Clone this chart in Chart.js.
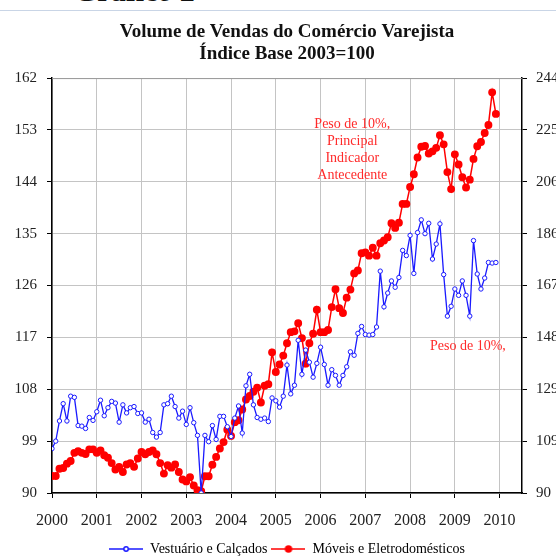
<!DOCTYPE html>
<html lang="pt">
<head>
  <meta charset="UTF-8">
  <title>Volume de Vendas do Comércio Varejista</title>
  <script src="https://cdn.jsdelivr.net/npm/chart.js"></script>
  <style>
    body {
      margin: 0;
      background: #fff;
    }
    .wrap {
      position: relative;
      width: 556px;
      height: 558px;
      overflow: hidden;
    }
    .cap {
      position: absolute;
      left: 74px;
      top: -24px;
      font: bold 30px/30px 'Liberation Serif', serif;
      color: #111;
    }
    .rule {
      position: absolute;
      left: 0;
      right: 0;
      top: 10px;
      border-top: 1px solid #c9d5e6;
    }
    canvas {
      position: absolute;
      left: 0;
      top: 0;
    }
  </style>
</head>
<body>

  <div class="wrap">
    <div class="cap">Gráfico 2</div>
    <div class="rule"></div>
    <canvas id="vendas" width="556" height="558"></canvas>
  </div>

  <script>
    // monthly index, Jan 2000 .. Dec 2009
    const years = ['2000', '2001', '2002', '2003', '2004', '2005', '2006', '2007', '2008', '2009', '2010'];

    // left axis
    const vestuario = [
      97.7, 99.0, 102.5, 105.5, 102.5, 106.8, 106.6, 101.7, 101.6, 101.2, 103.1, 102.6,
      104.1, 106.1, 103.4, 104.8, 105.9, 105.6, 102.3, 105.3, 103.9, 104.8, 105.0, 103.8,
      103.9, 102.3, 102.8, 100.5, 99.7, 100.5, 105.3, 105.5, 106.8, 105.0, 103.0, 104.2,
      101.9, 104.8, 102.2, 100.0, 90.0, 100.0, 98.9, 101.7, 99.3, 103.3, 103.3, 101.5,
      99.8, 103.0, 105.1, 100.4, 108.6, 110.6, 105.3, 103.1, 102.8, 103.0, 102.4, 106.5,
      106.0, 104.9, 106.8, 112.2, 107.2, 108.7, 116.5, 110.6, 114.8, 112.7, 110.1, 112.5,
      115.3, 112.3, 108.7, 111.4, 110.4, 108.7, 110.4, 111.9, 114.5, 113.9, 117.7, 118.9,
      117.5, 117.4, 117.5, 118.8, 128.5, 122.3, 124.7, 126.8, 125.7, 127.4, 132.1, 131.2,
      134.7, 128.1, 135.2, 137.4, 135.0, 136.8, 130.6, 133.2, 136.7, 127.9, 120.7, 122.4,
      125.4, 124.3, 126.8, 124.3, 120.7, 133.8, 128.0, 125.4, 127.3, 130.0, 129.9, 130.0
    ];

    // right axis
    const moveis = [
      96.3, 96.3, 99.0, 99.3, 100.9, 101.9, 104.9, 105.5, 104.9, 104.5, 106.2, 106.2,
      104.9, 105.8, 104.0, 103.1, 101.1, 98.7, 99.7, 97.8, 100.6, 101.1, 99.7, 102.8,
      105.2, 104.4, 105.2, 105.8, 104.4, 101.1, 97.2, 100.3, 99.4, 100.6, 97.8, 95.0,
      94.3, 95.9, 92.8, 91.0, 90.7, 96.2, 96.2, 100.5, 103.4, 106.5, 108.9, 113.5,
      111.2, 116.3, 117.0, 121.0, 124.7, 126.0, 127.6, 129.1, 123.6, 129.8, 130.4, 142.2,
      134.9, 137.7, 141.0, 145.6, 149.7, 150.0, 153.0, 147.5, 138.0, 145.6, 149.1, 158.0,
      149.7, 149.7, 150.5, 159.0, 165.6, 158.6, 156.8, 162.5, 165.5, 171.5, 172.6, 179.0,
      179.3, 178.1, 181.0, 178.1, 182.7, 183.7, 184.9, 190.1, 188.4, 190.3, 197.3, 197.3,
      203.6, 208.3, 214.5, 218.5, 218.8, 216.0, 216.8, 218.1, 222.8, 219.4, 209.1, 202.8,
      215.7, 211.9, 207.2, 203.4, 206.3, 214.0, 218.7, 220.3, 223.6, 226.6, 238.7, 230.7
    ];

    const serif = "'Liberation Serif', 'DejaVu Serif', serif";

    // text notes, placed in data units (month index, left axis value)
    const notes = [
      { x: 80.5, y: 154, lines: ['Peso de 10%,', 'Principal', 'Indicador', 'Antecedente'] },
      { x: 111.5, y: 115.5, lines: ['Peso de 10%,'] }
    ];

    function legendIcon(color, fill, r) {
      const c = document.createElement('canvas');
      c.width = 34;
      c.height = 10;
      const g = c.getContext('2d');
      g.strokeStyle = color;
      g.lineWidth = 1.5;
      g.beginPath();
      g.moveTo(0, 5);
      g.lineTo(34, 5);
      g.stroke();
      g.beginPath();
      g.arc(17, 5, r, 0, Math.PI * 2);
      g.fillStyle = fill;
      g.fill();
      g.stroke();
      return c;
    }
    const icons = [legendIcon('#1a1aff', '#ffffff', 2.2), legendIcon('#ff0000', '#ff0000', 3)];

    const extras = {
      id: 'extras',
      afterDatasetsDraw(chart) {
        const { ctx, chartArea, scales } = chart;
        ctx.save();
        // top frame line
        ctx.strokeStyle = '#9a9a9a';
        ctx.lineWidth = 1;
        ctx.beginPath();
        ctx.moveTo(chartArea.left, chartArea.top + 0.5);
        ctx.lineTo(chartArea.right, chartArea.top + 0.5);
        ctx.stroke();
        // notes
        ctx.fillStyle = '#ff2a2a';
        ctx.font = '14px ' + serif;
        ctx.textAlign = 'center';
        ctx.textBaseline = 'middle';
        notes.forEach(n => {
          const px = scales.x.getPixelForValue(n.x);
          const py = scales.y.getPixelForValue(n.y);
          n.lines.forEach((t, k) => ctx.fillText(t, px, py + k * 17));
        });
        ctx.restore();
      }
    };

    new Chart(document.getElementById('vendas'), {
      type: 'line',
      data: {
        datasets: [
          {
            label: 'Vestuário e Calçados',
            data: vestuario.map((v, i) => ({ x: i, y: v })),
            yAxisID: 'y',
            borderColor: '#1a1aff',
            borderWidth: 1.3,
            pointRadius: 2.2,
            pointBackgroundColor: '#ffffff',
            pointBorderColor: '#1a1aff',
            pointBorderWidth: 1,
            tension: 0
          },
          {
            label: 'Móveis e Eletrodomésticos',
            data: moveis.map((v, i) => ({ x: i, y: v })),
            yAxisID: 'y2',
            borderColor: '#ff0000',
            borderWidth: 1.5,
            pointRadius: 3.2,
            pointBackgroundColor: '#ff0000',
            pointBorderColor: '#ff0000',
            tension: 0
          }
        ]
      },
      options: {
        responsive: false,
        animation: false,
        layout: { padding: { left: 0, right: 0, top: 0, bottom: -8 } },
        plugins: {
          title: {
            display: true,
            fullSize: false,
            text: ['Volume de Vendas do Comércio Varejista', 'Índice Base 2003=100'],
            color: '#111',
            font: { family: serif, size: 19, weight: 'bold', lineHeight: 1.16 },
            padding: { top: 21, bottom: 13 }
          },
          legend: {
            position: 'bottom',
            fullSize: false,
            labels: {
              usePointStyle: true,
              pointStyleWidth: 34,
              padding: 4,
              color: '#333',
              font: { family: serif, size: 14 },
              generateLabels: chart => chart.data.datasets.map((ds, i) => ({
                text: ds.label,
                pointStyle: icons[i],
                fillStyle: ds.borderColor,
                strokeStyle: ds.borderColor,
                lineWidth: 0,
                hidden: false,
                datasetIndex: i
              }))
            }
          },
          tooltip: { enabled: false }
        },
        scales: {
          x: {
            type: 'linear',
            min: 0,
            max: 126,
            afterBuildTicks: s => { s.ticks = s.ticks.filter(t => t.value % 12 === 0); },
            afterFit: s => { s.height = 45; },
            ticks: {
              stepSize: 12,
              includeBounds: false,
              autoSkip: false,
              maxRotation: 0,
              padding: 13,
              color: '#222',
              font: { family: serif, size: 16 },
              callback: v => years[v / 12]
            },
            grid: {
              color: '#c4c4c4',
              borderDash: [8, 3, 1, 3],
              tickColor: '#000',
              tickLength: 5
            },
            border: { color: '#000', width: 1.5 }
          },
          y: {
            position: 'left',
            min: 90,
            max: 162,
            afterFit: s => { s.width = 52; },
            ticks: {
              stepSize: 9,
              padding: 10,
              color: '#222',
              font: { family: serif, size: 15 }
            },
            grid: {
              color: '#c4c4c4',
              borderDash: [3, 2],
              tickColor: '#000',
              tickLength: 5
            },
            border: { color: '#000', width: 1.5 }
          },
          y2: {
            position: 'right',
            min: 90,
            max: 244,
            afterFit: s => { s.width = 34; },
            ticks: {
              stepSize: 19.25,
              padding: 9,
              color: '#222',
              font: { family: serif, size: 15 },
              callback: v => Math.round(v)
            },
            grid: {
              drawOnChartArea: false,
              tickColor: '#000',
              tickLength: 5
            },
            border: { color: '#000', width: 1.5 }
          }
        }
      },
      plugins: [extras]
    });
  </script>

</body>
</html>
